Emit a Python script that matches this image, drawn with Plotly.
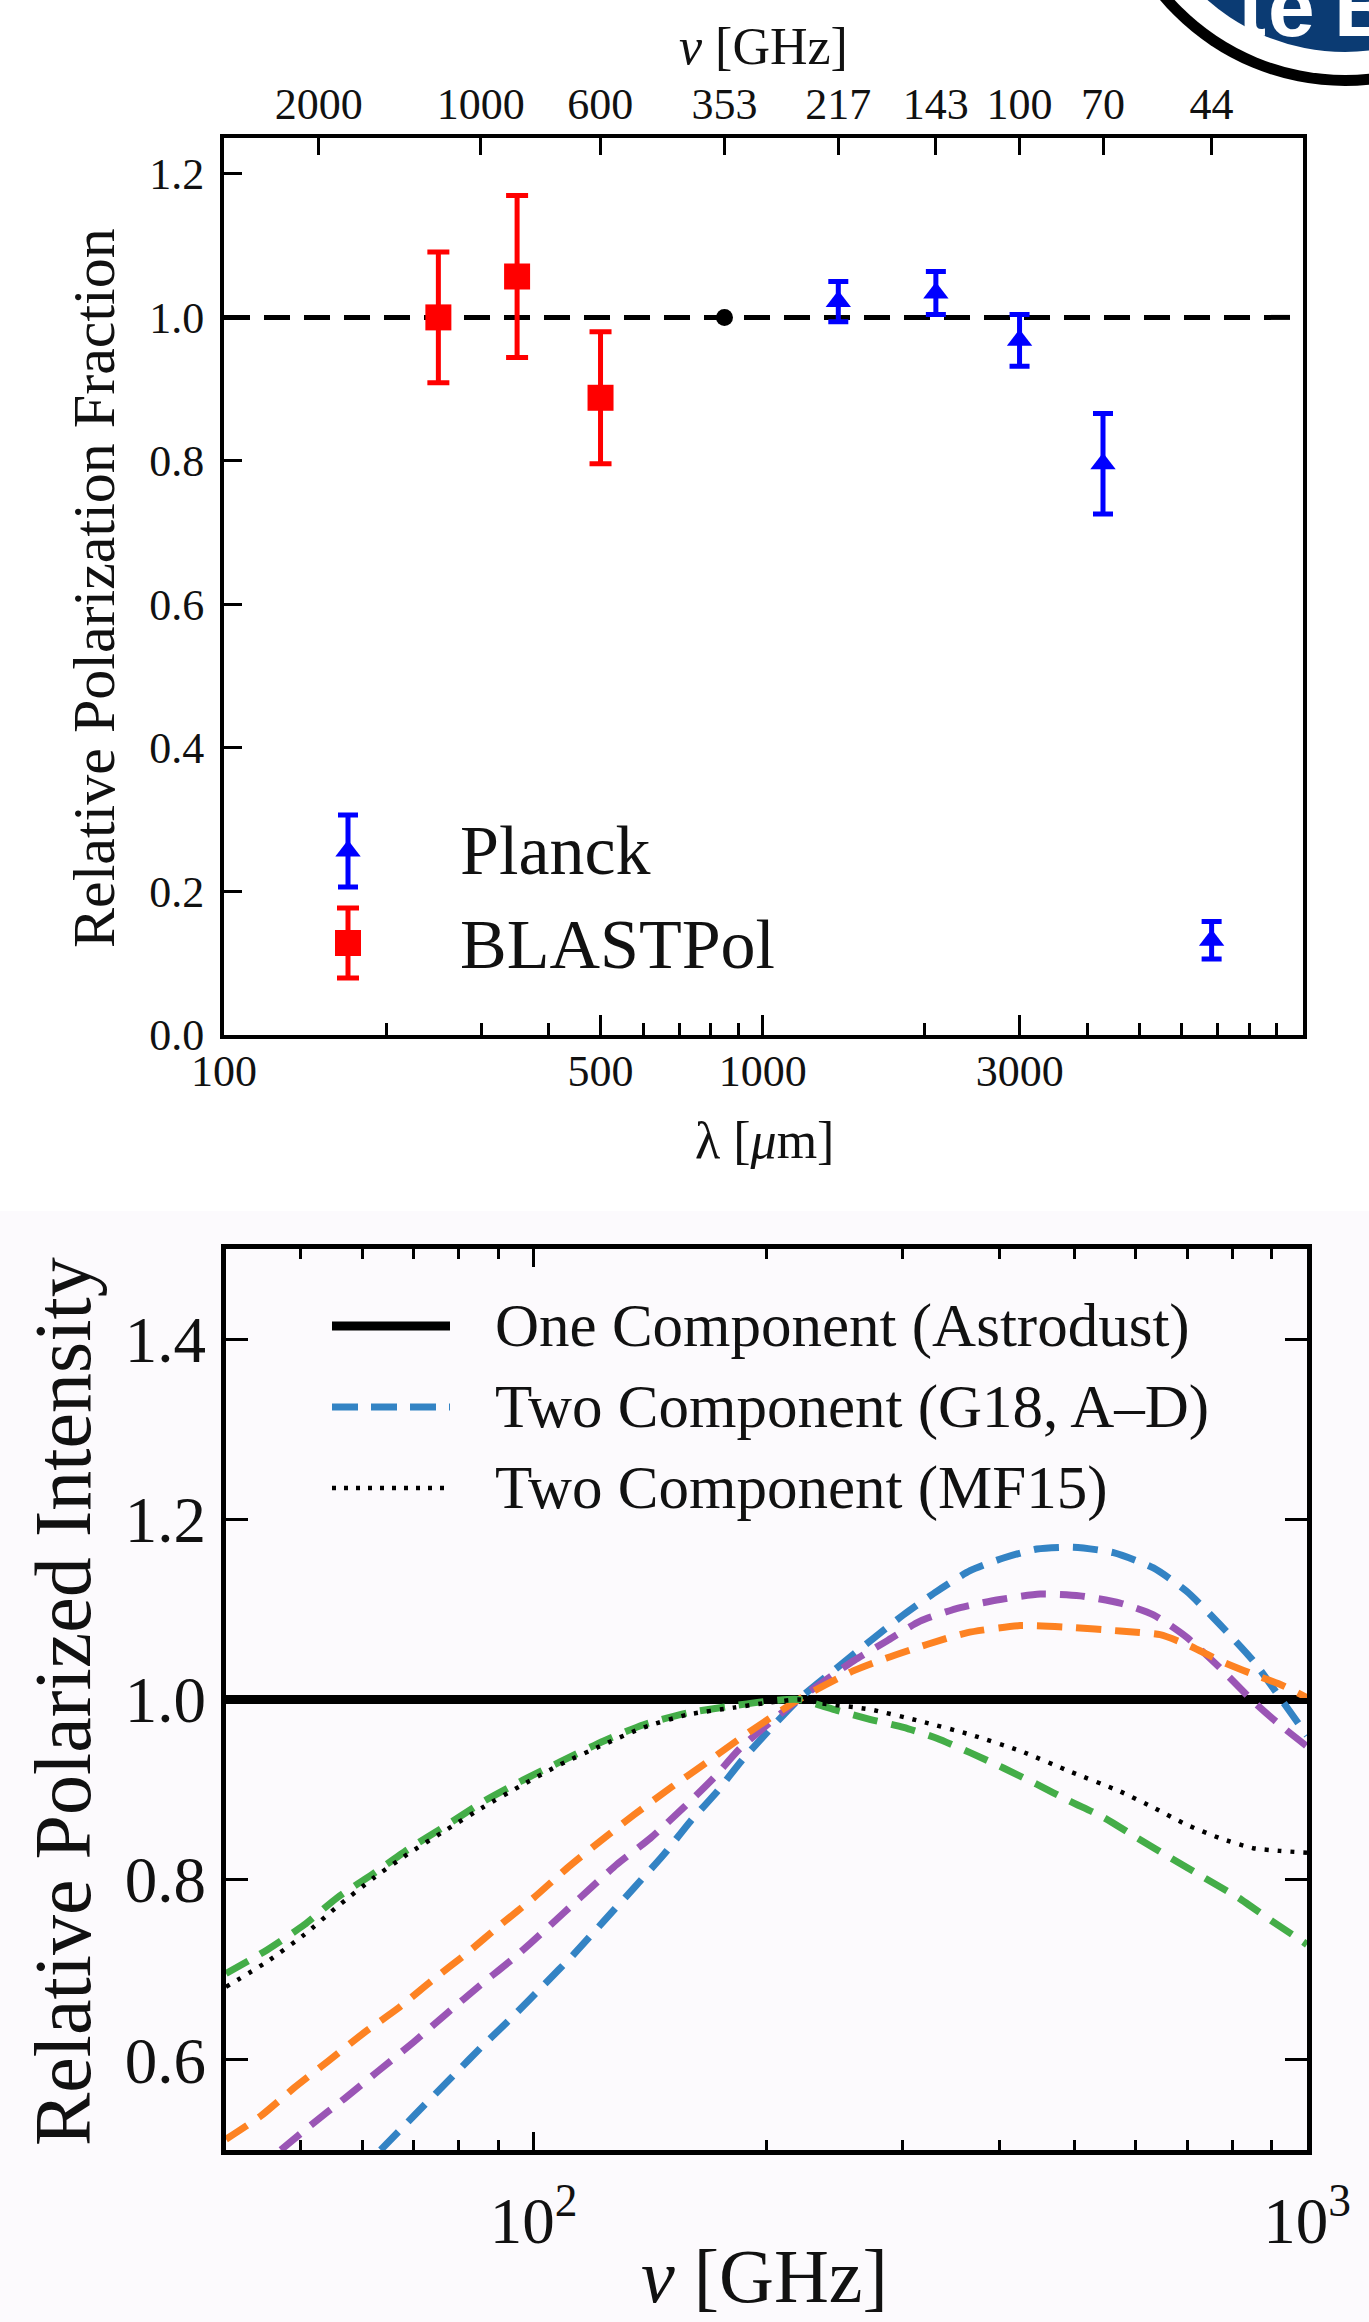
import numpy as np
import plotly.graph_objects as go

W, H = 1369, 2322
SERIF = "Liberation Serif"
C_UM_GHZ = 299792.458  # speed of light in micron * GHz

# ---------------- top panel: relative polarization fraction ----------------
BLAST_LAM = [250, 350, 500]
BLAST_PF = [1.000, 1.057, 0.888]
BLAST_ERR = [0.091, 0.113, 0.092]

PLANCK_NU = [217, 143, 100, 70, 44]
PLANCK_PF = [1.022, 1.034, 0.968, 0.796, 0.132]
PLANCK_ERR = [0.028, 0.030, 0.036, 0.070, 0.026]

REF_NU = [353]
REF_PF = [1.0]

UNITY_LAM = [100, 10000]
UNITY_PF = [1.0, 1.0]

LAM_TICKS = [100, 500, 1000, 3000]
LAM_MINOR = [200, 300, 400, 600, 700, 800, 900,
             2000, 4000, 5000, 6000, 7000, 8000, 9000]
NU_TOP_TICKS = [2000, 1000, 600, 353, 217, 143, 100, 70, 44]
PF_TICKS = [0.0, 0.2, 0.4, 0.6, 0.8, 1.0, 1.2]

# ---------------- bottom panel: relative polarized intensity ----------------
ONE_NU = [40, 1000]
ONE_VAL = [1.0, 1.0]

G18_BLUE_NU = [63.4, 70, 78.8, 86.2, 94.2, 103, 112.6, 123.2, 134.8, 147.3, 159.5,
               172.7, 187, 220, 246.6, 272.3, 300.8, 332.1, 366.7, 405, 447.3, 498.9,
               562, 633, 699, 772, 852, 922.7, 1000]
G18_BLUE_VAL = [0.500, 0.538, 0.583, 0.617, 0.649, 0.683, 0.717, 0.754, 0.791, 0.828,
                0.865, 0.898, 0.935, 1.000, 1.035, 1.065, 1.094, 1.120, 1.143, 1.157,
                1.167, 1.169, 1.163, 1.146, 1.120, 1.083, 1.043, 1.002, 0.960]

G18_PURPLE_NU = [47.1, 51.4, 56.9, 62.8, 70, 77.3, 85.3, 94.2, 104, 114.8, 128.1, 141.5,
                 156.2, 170.9, 185, 220, 259.3, 286.2, 316, 356, 401, 451.8, 508.8,
                 573.2, 633, 699, 772, 852, 922, 1000]
G18_PURPLE_VAL = [0.500, 0.527, 0.557, 0.587, 0.620, 0.652, 0.683, 0.713, 0.746, 0.780,
                  0.817, 0.846, 0.880, 0.913, 0.946, 1.000, 1.043, 1.065, 1.087, 1.102,
                  1.111, 1.117, 1.115, 1.107, 1.094, 1.069, 1.035, 0.998, 0.972, 0.948]

G18_ORANGE_NU = [40, 44.4, 49.0, 54.1, 60.3, 66.7, 73.6, 82.1, 90.6, 100, 110.5, 122,
                 134.8, 150.3, 166, 185, 220, 259.3, 286, 322.4, 363, 425.6, 494, 573,
                 645.7, 699, 772, 852, 922, 1000]
G18_ORANGE_VAL = [0.512, 0.538, 0.569, 0.598, 0.630, 0.657, 0.687, 0.719, 0.750, 0.780,
                  0.813, 0.843, 0.872, 0.902, 0.928, 0.957, 1.000, 1.032, 1.046, 1.061,
                  1.074, 1.082, 1.080, 1.076, 1.072, 1.061, 1.043, 1.028, 1.017, 1.002]

G18_GREEN_NU = [40, 45.2, 50.5, 55.7, 62.1, 68.6, 77.3, 86.2, 96.1, 108.3, 123.2, 138.7,
                157.8, 181.4, 200, 220, 246.6, 272, 300.8, 332, 366.7, 405, 447, 494,
                546, 604, 667, 737, 815, 901, 985, 1000]
G18_GREEN_VAL = [0.696, 0.722, 0.750, 0.780, 0.807, 0.833, 0.861, 0.887, 0.909, 0.931,
                 0.954, 0.972, 0.985, 0.993, 0.998, 1.000, 0.988, 0.978, 0.969, 0.957,
                 0.941, 0.924, 0.906, 0.887, 0.869, 0.846, 0.824, 0.802, 0.780, 0.754,
                 0.732, 0.728]

MF15_NU = [40, 45.2, 50.5, 55.7, 62.1, 68.6, 77.3, 86.2, 96.1, 108.3, 123.2, 138.7,
           157.8, 181.4, 220, 234.8, 272, 316, 367, 425.6, 494, 573, 633, 699, 772, 852,
           922, 1000]
MF15_VAL = [0.681, 0.709, 0.739, 0.770, 0.802, 0.828, 0.856, 0.881, 0.904, 0.928, 0.950,
            0.969, 0.983, 0.991, 1.000, 0.996, 0.989, 0.976, 0.961, 0.943, 0.920, 0.898,
            0.880, 0.861, 0.846, 0.835, 0.832, 0.830]

NU_TICKS = [100, 1000]
NU_TICK_TEXT = ["10<sup>2</sup>", "10<sup>3</sup>"]
NU_MINOR = [50, 60, 70, 80, 90, 200, 300, 400, 500, 600, 700, 800, 900]
PI_TICKS = [0.6, 0.8, 1.0, 1.2, 1.4]

COL_BLUE = "#3383c4"
COL_PURPLE = "#9a55b5"
COL_ORANGE = "#fd8222"
COL_GREEN = "#44ad48"


def px(x):
    return x / W


def py(y):
    return 1 - y / H


fig = go.Figure()

# ---- top panel traces ----
fig.add_trace(go.Scatter(x=UNITY_LAM, y=UNITY_PF, mode="lines",
                         line=dict(color="black", width=5, dash="26px,14px"),
                         xaxis="x", yaxis="y", hoverinfo="skip"))
# carrier for the secondary (frequency) axis along the top edge
fig.add_trace(go.Scatter(x=UNITY_LAM, y=UNITY_PF, mode="lines", opacity=0,
                         line=dict(width=0), xaxis="x2", yaxis="y", hoverinfo="skip"))
fig.add_trace(go.Scatter(x=BLAST_LAM, y=BLAST_PF, mode="markers",
                         marker=dict(symbol="square", size=26, color="#ff0000"),
                         error_y=dict(type="data", array=BLAST_ERR, color="#ff0000",
                                      thickness=5, width=11),
                         xaxis="x", yaxis="y", name="BLASTPol"))
planck_lam = [C_UM_GHZ / nu for nu in PLANCK_NU]
fig.add_trace(go.Scatter(x=planck_lam, y=PLANCK_PF, mode="markers",
                         marker=dict(symbol="triangle-up", size=22, color="#0000ff"),
                         error_y=dict(type="data", array=PLANCK_ERR, color="#0000ff",
                                      thickness=5, width=10),
                         xaxis="x", yaxis="y", name="Planck"))
ref_lam = [C_UM_GHZ / nu for nu in REF_NU]
fig.add_trace(go.Scatter(x=ref_lam, y=REF_PF, mode="markers",
                         marker=dict(symbol="circle", size=17, color="black"),
                         xaxis="x", yaxis="y", hoverinfo="skip"))

# ---- bottom panel traces ----
fig.add_trace(go.Scatter(x=ONE_NU, y=ONE_VAL, mode="lines",
                         line=dict(color="black", width=9),
                         xaxis="x3", yaxis="y3", name="One Component (Astrodust)"))
# carrier for the tick-only axis on the top edge of the lower panel
fig.add_trace(go.Scatter(x=ONE_NU, y=ONE_VAL, mode="lines", opacity=0,
                         line=dict(width=0), xaxis="x5", yaxis="y3", hoverinfo="skip"))
for nu, val, col in [(G18_BLUE_NU, G18_BLUE_VAL, COL_BLUE),
                     (G18_PURPLE_NU, G18_PURPLE_VAL, COL_PURPLE),
                     (G18_ORANGE_NU, G18_ORANGE_VAL, COL_ORANGE),
                     (G18_GREEN_NU, G18_GREEN_VAL, COL_GREEN)]:
    fig.add_trace(go.Scatter(x=nu, y=val, mode="lines",
                             line=dict(color=col, width=7, dash="25px,14px",
                                       shape="spline", smoothing=0.6),
                             xaxis="x3", yaxis="y3", hoverinfo="skip"))
fig.add_trace(go.Scatter(x=MF15_NU, y=MF15_VAL, mode="lines",
                         line=dict(color="black", width=4.5, dash="4px,9px",
                                   shape="spline", smoothing=0.6),
                         xaxis="x3", yaxis="y3", name="Two Component (MF15)"))

# ---- legend keys, drawn on a pixel-space overlay ----
fig.add_trace(go.Scatter(x=[348], y=[851], mode="markers",
                         marker=dict(symbol="triangle-up", size=22, color="#0000ff"),
                         error_y=dict(type="data", array=[36], color="#0000ff",
                                      thickness=5, width=10),
                         xaxis="x4", yaxis="y4", hoverinfo="skip"))
fig.add_trace(go.Scatter(x=[348], y=[943], mode="markers",
                         marker=dict(symbol="square", size=26, color="#ff0000"),
                         error_y=dict(type="data", array=[35], color="#ff0000",
                                      thickness=5, width=11),
                         xaxis="x4", yaxis="y4", hoverinfo="skip"))
for yk, col, wd, dash in [(1326, "black", 9, "solid"),
                          (1407, COL_BLUE, 7, "26px,13px"),
                          (1488, "black", 4.5, "4px,8px")]:
    fig.add_trace(go.Scatter(x=[332, 450], y=[yk, yk], mode="lines",
                             line=dict(color=col, width=wd, dash=dash),
                             xaxis="x4", yaxis="y4", hoverinfo="skip"))

TOP_DOM_X = [px(224), px(1303)]
TOP_DOM_Y = [py(1035), py(138)]
BOT_DOM_X = [px(226), px(1307)]
BOT_DOM_Y = [py(2150), py(1249)]

tick_top = dict(family=SERIF, size=44, color="#111")
tick_bot = dict(family=SERIF, size=65, color="#111")

fig.update_layout(
    template="none",
    width=W, height=H,
    margin=dict(l=0, r=0, t=0, b=0, pad=0, autoexpand=False),
    paper_bgcolor="white",
    plot_bgcolor="rgba(0,0,0,0)",
    showlegend=False,
    xaxis=dict(type="log", range=[2, 4.003], domain=TOP_DOM_X, anchor="y",
               automargin=False,
               tickmode="array", tickvals=LAM_TICKS,
               ticktext=[str(v) for v in LAM_TICKS],
               ticks="inside", ticklen=20, tickwidth=3, tickcolor="black",
               minor=dict(tickmode="array", tickvals=LAM_MINOR, ticks="inside",
                          ticklen=12, tickwidth=3, tickcolor="black", showgrid=False),
               showline=True, linewidth=4, linecolor="black", mirror=True,
               showgrid=False, zeroline=False, tickfont=tick_top,
               ticklabelstandoff=-6),
    xaxis2=dict(type="log", range=[2, 4.003], overlaying="x", side="top", anchor="y",
                automargin=False,
                tickmode="array",
                tickvals=[C_UM_GHZ / nu for nu in NU_TOP_TICKS],
                ticktext=[str(nu) for nu in NU_TOP_TICKS],
                ticks="inside", ticklen=17, tickwidth=3, tickcolor="black",
                showline=False, showgrid=False, zeroline=False, tickfont=tick_top,
                ticklabelstandoff=9),
    yaxis=dict(range=[0, 1.25], domain=TOP_DOM_Y, anchor="x", automargin=False,
               tickmode="array", tickvals=PF_TICKS,
               ticktext=[f"{v:.1f}" for v in PF_TICKS],
               ticks="inside", ticklen=18, tickwidth=3, tickcolor="black",
               showline=True, linewidth=4, linecolor="black", mirror=True,
               showgrid=False, zeroline=False, tickfont=tick_top,
               ticklabelstandoff=7),
    xaxis3=dict(type="log", range=[np.log10(40), 3], domain=BOT_DOM_X, anchor="y3",
                automargin=False,
                tickmode="array", tickvals=NU_TICKS, ticktext=NU_TICK_TEXT,
                ticks="inside", ticklen=18, tickwidth=3, tickcolor="black",
                minor=dict(tickmode="array", tickvals=NU_MINOR, ticks="inside",
                           ticklen=10, tickwidth=3, tickcolor="black", showgrid=False),
                showline=True, linewidth=5, linecolor="black", mirror=True,
                showgrid=False, zeroline=False, tickfont=tick_bot,
                ticklabelstandoff=10),
    xaxis5=dict(type="log", range=[np.log10(40), 3], overlaying="x3", side="top",
                anchor="y3", automargin=False,
                tickmode="array", tickvals=NU_TICKS, showticklabels=False,
                ticks="inside", ticklen=18, tickwidth=3, tickcolor="black",
                minor=dict(tickmode="array", tickvals=NU_MINOR, ticks="inside",
                           ticklen=10, tickwidth=3, tickcolor="black", showgrid=False),
                showline=False, showgrid=False, zeroline=False),
    yaxis3=dict(range=[0.5, 1.5], domain=BOT_DOM_Y, anchor="x3", automargin=False,
                tickmode="array", tickvals=PI_TICKS,
                ticktext=[f"{v:.1f}" for v in PI_TICKS],
                ticks="inside", ticklen=22, tickwidth=3, tickcolor="black",
                showline=True, linewidth=5, linecolor="black", mirror="ticks",
                showgrid=False, zeroline=False, tickfont=tick_bot,
                ticklabelstandoff=2),
    xaxis4=dict(range=[0, W], domain=[0, 1], anchor="y4", visible=False,
                fixedrange=True, automargin=False),
    yaxis4=dict(range=[H, 0], domain=[0, 1], anchor="x4", visible=False,
                fixedrange=True, automargin=False),
)

# background tint behind the lower panel
shapes = [dict(type="rect", xref="paper", yref="paper", x0=0, x1=1, y0=0, y1=py(1211),
               fillcolor="#fcfafd", line=dict(width=0), layer="below")]

# badge in the upper-right corner
cx, cy = 1345, -156
for r, col in [(242, "black"), (231, "white"), (208, "#0b3b73")]:
    shapes.append(dict(type="circle", xref="paper", yref="paper",
                       x0=px(cx - r), x1=px(cx + r), y0=py(cy + r), y1=py(cy - r),
                       fillcolor=col, line=dict(width=0), layer="above"))
fig.update_layout(shapes=shapes)

ann = []


def label(text, x, y, size, angle=0, xanchor="center", family=SERIF, color="#111"):
    ann.append(dict(text=text, x=px(x), y=py(y), xref="paper", yref="paper",
                    showarrow=False, xanchor=xanchor, yanchor="middle",
                    textangle=angle, font=dict(family=family, size=size, color=color)))


label("<i>ν</i> [GHz]", 763, 46, 52)
label("λ [<i>μ</i>m]", 764, 1140, 52)
label("Relative Polarization Fraction", 94, 588, 60, angle=-90)
label("Planck", 458, 851, 70, xanchor="left")
label("BLASTPol", 458, 944, 70, xanchor="left")

label("Relative Polarized Intensity", 63, 1702, 80, angle=-90)
label("<i>ν</i> [GHz]", 764, 2276, 76)
label("One Component (Astrodust)", 493, 1326, 61, xanchor="left")
label("Two Component (G18, A–D)", 493, 1407, 61, xanchor="left")
label("Two Component (MF15)", 493, 1488, 61, xanchor="left")

for ch, xl in [("t", 1236), ("e", 1266), ("B", 1332)]:
    ann.append(dict(text=f"<b>{ch}</b>", x=px(xl), y=py(56), xref="paper", yref="paper",
                    showarrow=False, xanchor="left", yanchor="bottom",
                    font=dict(family="Liberation Sans", size=84, color="white")))

fig.update_layout(annotations=ann)

fig.write_html("out.html")
